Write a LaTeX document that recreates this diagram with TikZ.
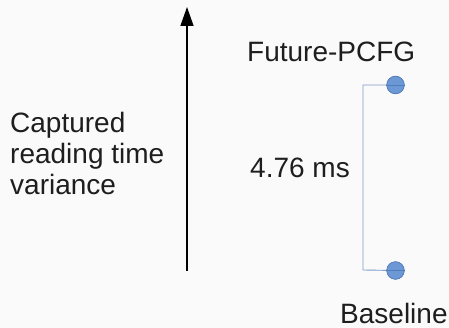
\documentclass[tikz,border=0pt]{standalone}
\usepackage{fontspec}
\setmainfont{Liberation Sans}
\usetikzlibrary{arrows.meta}
\definecolor{bg}{RGB}{250,250,250}
\definecolor{ink}{RGB}{30,30,30}
\definecolor{linkblue}{RGB}{128,156,204}
\definecolor{dotfill}{RGB}{108,152,214}
\definecolor{dotedge}{RGB}{84,124,186}
\tikzset{
  lbl/.style={inner sep=0pt, text=ink, font=\fontsize{28}{31}\selectfont},
  axisarrow/.style={line width=1.3pt, -{Triangle[length=19pt,width=13pt]}},
  bracket/.style={linkblue, line width=0.9pt},
  dot/.style={circle, minimum size=17.5pt, inner sep=0pt, fill=dotfill, draw=dotedge, line width=0.6pt},
}
\begin{document}
\begin{tikzpicture}[x=1pt, y=-1pt]
  \fill[bg] (0,0) rectangle (449,328);
  \useasboundingbox (0,0) rectangle (449,328);

  % vertical axis
  \coordinate (axlow) at (187,271);
  \coordinate (axtop) at (187,7);
  \draw[axisarrow] (axlow) -- (axtop);

  % axis caption (base anchor sits on the last line)
  \node[lbl, anchor=base west, align=left] (cap) at (10,195)
    {Captured\\reading time\\variance};

  % bracket between the two models
  \coordinate (tc) at (363,85);
  \coordinate (bc) at (363,270);
  \node[dot] (fut) at (395.5,85) {};
  \node[dot] (base) at (395.5,270.5) {};
  \draw[bracket] (fut.center) -- (tc) -- (bc) -- (base.center);
  \node[dot] at (fut) {};
  \node[dot] at (base) {};
  \draw[dotedge, line width=0.9pt] (fut.west) -- (fut.east);
  \draw[dotedge, line width=0.9pt] (base.west) -- (base.east);

  % labels
  \node[lbl, anchor=base west] (futlbl) at (247,62) {Future-PCFG};
  \node[lbl, anchor=base west] (baselbl) at (340,323) {Baseline};
  \node[lbl, anchor=base west] (diff) at (250,178) {4.76 ms};
\end{tikzpicture}
\end{document}
